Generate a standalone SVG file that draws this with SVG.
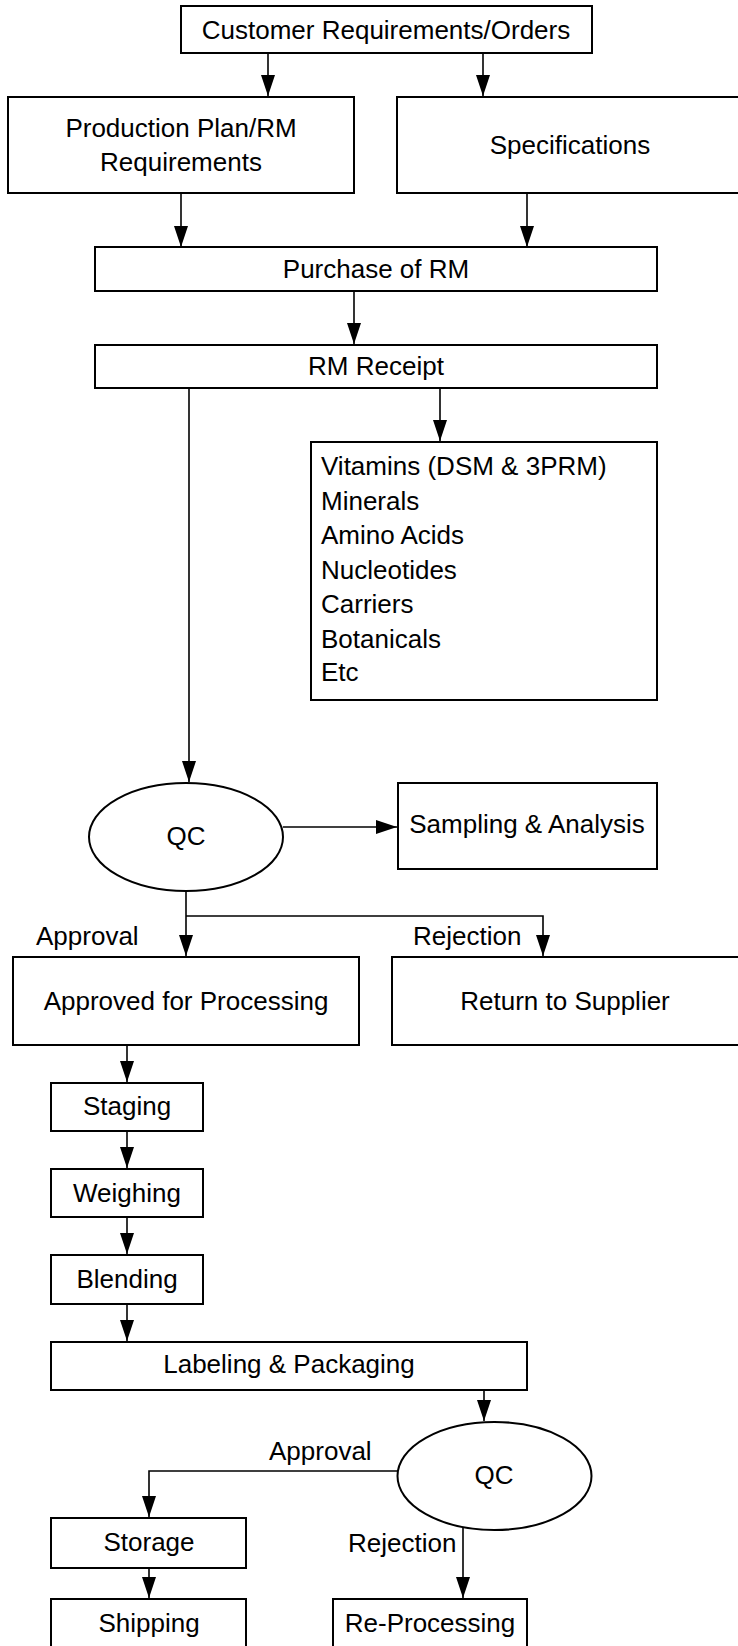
<svg xmlns="http://www.w3.org/2000/svg" width="738" height="1646" viewBox="0 0 738 1646">
  <style>
    .box { fill: #ffffff; stroke: #000000; stroke-width: 2; }
    .line { fill: none; stroke: #000000; stroke-width: 1.6; }
    .arrow { marker-end: url(#head); }
    text { font-family: "Liberation Sans", Arial, sans-serif; font-size: 26px; fill: #000000; }
    .c { text-anchor: middle; }
  </style>
  <defs>
    <marker id="head" markerUnits="userSpaceOnUse" markerWidth="22" markerHeight="14" refX="21" refY="7" orient="auto">
      <path d="M0,0 L21,7 L0,14 z" fill="#000000"/>
    </marker>
  </defs>
  <rect width="738" height="1646" fill="#ffffff"/>

  <!-- connectors -->
  <g id="connectors">
    <path class="line arrow" d="M268,53 V96"/>
    <path class="line arrow" d="M483,53 V96"/>
    <path class="line arrow" d="M181,193 V247"/>
    <path class="line arrow" d="M527,193 V247"/>
    <path class="line arrow" d="M354,291 V344"/>
    <path class="line arrow" d="M440,388 V441"/>
    <path class="line arrow" d="M189,388 V782"/>
    <path class="line arrow" d="M283,827 H397"/>
    <path class="line arrow" d="M186,891 V956"/>
    <path class="line arrow" d="M186,916 H543 V956"/>
    <path class="line arrow" d="M127,1045 V1082"/>
    <path class="line arrow" d="M127,1131 V1168"/>
    <path class="line arrow" d="M127,1217 V1254"/>
    <path class="line arrow" d="M127,1304 V1341"/>
    <path class="line arrow" d="M484,1390 V1421"/>
    <path class="line arrow" d="M398,1471 H149 V1517"/>
    <path class="line arrow" d="M149,1568 V1598"/>
    <path class="line arrow" d="M463,1527 V1598"/>
    <text x="36" y="945">Approval</text>
    <text x="413" y="945">Rejection</text>
    <text x="269" y="1460">Approval</text>
    <text x="348" y="1552">Rejection</text>
  </g>

  <g id="customer-orders">
    <rect class="box" x="181" y="6" width="411" height="47"/>
    <text class="c" x="386" y="39">Customer Requirements/Orders</text>
  </g>
  <g id="production-plan">
    <rect class="box" x="8" y="97" width="346" height="96"/>
    <text class="c" x="181" y="137">Production Plan/RM</text>
    <text class="c" x="181" y="171">Requirements</text>
  </g>
  <g id="specifications">
    <rect class="box" x="397" y="97" width="350" height="96"/>
    <text class="c" x="570" y="154">Specifications</text>
  </g>
  <g id="purchase-rm">
    <rect class="box" x="95" y="247" width="562" height="44"/>
    <text class="c" x="376" y="278">Purchase of RM</text>
  </g>
  <g id="rm-receipt">
    <rect class="box" x="95" y="345" width="562" height="43"/>
    <text class="c" x="376" y="375">RM Receipt</text>
  </g>
  <g id="materials">
    <rect class="box" x="311" y="442" width="346" height="258"/>
    <text x="321" y="475">Vitamins (DSM &amp; 3PRM)</text>
    <text x="321" y="510">Minerals</text>
    <text x="321" y="544">Amino Acids</text>
    <text x="321" y="579">Nucleotides</text>
    <text x="321" y="613">Carriers</text>
    <text x="321" y="648">Botanicals</text>
    <text x="321" y="681">Etc</text>
  </g>
  <g id="qc-incoming">
    <ellipse class="box" cx="186" cy="837" rx="97" ry="54"/>
    <text class="c" x="186" y="845">QC</text>
  </g>
  <g id="sampling-analysis">
    <rect class="box" x="398" y="783" width="259" height="86"/>
    <text class="c" x="527" y="833">Sampling &amp; Analysis</text>
  </g>
  <g id="approved-processing">
    <rect class="box" x="13" y="957" width="346" height="88"/>
    <text class="c" x="186" y="1010">Approved for Processing</text>
  </g>
  <g id="return-supplier">
    <rect class="box" x="392" y="957" width="350" height="88"/>
    <text class="c" x="565" y="1010">Return to Supplier</text>
  </g>
  <g id="staging">
    <rect class="box" x="51" y="1083" width="152" height="48"/>
    <text class="c" x="127" y="1115">Staging</text>
  </g>
  <g id="weighing">
    <rect class="box" x="51" y="1169" width="152" height="48"/>
    <text class="c" x="127" y="1202">Weighing</text>
  </g>
  <g id="blending">
    <rect class="box" x="51" y="1255" width="152" height="49"/>
    <text class="c" x="127" y="1288">Blending</text>
  </g>
  <g id="labeling-packaging">
    <rect class="box" x="51" y="1342" width="476" height="48"/>
    <text class="c" x="289" y="1373">Labeling &amp; Packaging</text>
  </g>
  <g id="qc-final">
    <ellipse class="box" cx="494.5" cy="1476" rx="97" ry="54"/>
    <text class="c" x="494" y="1484">QC</text>
  </g>
  <g id="storage">
    <rect class="box" x="51" y="1518" width="195" height="50"/>
    <text class="c" x="149" y="1551">Storage</text>
  </g>
  <g id="shipping">
    <rect class="box" x="51" y="1599" width="195" height="60"/>
    <text class="c" x="149" y="1632">Shipping</text>
  </g>
  <g id="re-processing">
    <rect class="box" x="333" y="1599" width="194" height="60"/>
    <text class="c" x="430" y="1632">Re-Processing</text>
  </g>
</svg>
